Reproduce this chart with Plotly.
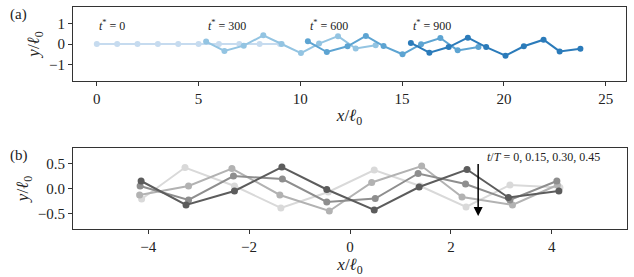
import plotly.graph_objects as go

# ---- panel (a): chain snapshots at t* = 0, 300, 600, 900 ----
a_labels = ["0", "300", "600", "900"]
a_x0 = [0, 1, 2, 3, 4, 5, 6, 7, 8, 9]
a_y0 = [0, 0, 0, 0, 0, 0, 0, 0, 0, 0]
a_x300 = [5.37, 6.27, 7.22, 8.18, 9.08, 10.03, 10.92, 11.85, 12.72, 13.70]
a_y300 = [0.12, -0.34, -0.08, 0.42, 0.00, -0.44, 0.02, 0.38, -0.22, -0.06]
a_x600 = [10.37, 11.30, 12.32, 13.22, 14.09, 15.02, 15.93, 16.88, 17.73, 18.75]
a_y600 = [0.13, -0.39, -0.11, 0.39, -0.10, -0.50, -0.01, 0.29, -0.31, -0.15]
a_x900 = [15.43, 16.34, 17.29, 18.23, 19.13, 20.08, 20.98, 21.95, 22.74, 23.76]
a_y900 = [0.05, -0.42, -0.15, 0.31, -0.15, -0.57, -0.11, 0.21, -0.36, -0.23]
a_colors = ["#c6dbef", "#93c4e2", "#5da4d2", "#2b7bba"]

# ---- panel (b): snapshots at t/T = 0, 0.15, 0.30, 0.45 ----
b_labels = ["0", "0.15", "0.30", "0.45"]
b_x_t0 = [-4.14, -3.25, -2.29, -1.35, -0.46, 0.48, 1.37, 2.32, 3.14, 4.14]
b_y_t0 = [0.15, -0.33, -0.05, 0.43, -0.02, -0.43, 0.03, 0.38, -0.18, -0.05]
b_x_t15 = [-4.16, -3.20, -2.31, -1.34, -0.46, 0.50, 1.35, 2.29, 3.17, 4.10]
b_y_t15 = [0.05, -0.23, 0.25, 0.19, -0.27, -0.20, 0.30, 0.09, -0.23, 0.15]
b_x_t30 = [-4.17, -3.20, -2.34, -1.39, -0.41, 0.43, 1.42, 2.22, 3.22, 4.11]
b_y_t30 = [-0.13, 0.05, 0.40, -0.13, -0.45, 0.12, 0.45, -0.17, -0.33, 0.07]
b_x_t45 = [-4.13, -3.27, -2.29, -1.37, -0.43, 0.48, 1.39, 2.30, 3.17, 4.16]
b_y_t45 = [-0.21, 0.42, 0.05, -0.39, -0.07, 0.37, 0.05, -0.37, 0.07, 0.02]
b_colors = ["#5c5c5c", "#8e8e8e", "#b2b2b2", "#d9d9d9"]

FONT = "Liberation Serif"
TXT = "#222222"

# plot area in pixels: x 73..627, y 7..229
L, R, T, B = 73, 7, 7, 48
W, H = 634 - L - R, 277 - T - B

fig = go.Figure()

a_xs = [a_x0, a_x300, a_x600, a_x900]
a_ys = [a_y0, a_y300, a_y600, a_y900]
for xs, ys, c, lab in zip(a_xs, a_ys, a_colors, a_labels):
    fig.add_trace(go.Scatter(x=xs, y=ys, mode="lines+markers", xaxis="x", yaxis="y",
                             line=dict(color=c, width=2), marker=dict(color=c, size=6),
                             showlegend=False, name="t*=" + lab))
    fig.add_annotation(x=xs[0], y=0.92, xref="x", yref="y", xanchor="left", yanchor="middle",
                       text="<i>t</i><sup>*</sup> = " + lab, showarrow=False,
                       font=dict(family=FONT, size=12, color=TXT))

b_xs = [b_x_t0, b_x_t15, b_x_t30, b_x_t45]
b_ys = [b_y_t0, b_y_t15, b_y_t30, b_y_t45]
for xs, ys, c, lab in list(zip(b_xs, b_ys, b_colors, b_labels))[::-1]:
    fig.add_trace(go.Scatter(x=xs, y=ys, mode="lines+markers", xaxis="x2", yaxis="y2",
                             line=dict(color=c, width=2), marker=dict(color=c, size=7),
                             showlegend=False, name="t/T=" + lab))

fig.add_annotation(x=2.54, y=-0.55, ax=2.54, ay=0.52, xref="x2", yref="y2", axref="x2", ayref="y2",
                   text="", showarrow=True, arrowhead=2, arrowsize=1.2, arrowwidth=1.5, arrowcolor="black")
fig.add_annotation(x=2.68, y=0.64, xref="x2", yref="y2", xanchor="left", yanchor="middle",
                   text="<i>t</i>/<i>T</i> = 0, 0.15, 0.30, 0.45", showarrow=False,
                   font=dict(family=FONT, size=12, color=TXT))
fig.add_annotation(x=(8 - L) / W, y=(277 - B - 15) / H, xref="paper", yref="paper", text="(a)",
                   showarrow=False, xanchor="left", yanchor="middle",
                   font=dict(family=FONT, size=15, color=TXT))
fig.add_annotation(x=(8 - L) / W, y=(277 - B - 155) / H, xref="paper", yref="paper", text="(b)",
                   showarrow=False, xanchor="left", yanchor="middle",
                   font=dict(family=FONT, size=15, color=TXT))

ax_common = dict(showgrid=False, zeroline=False, showline=True, linecolor="#333333", linewidth=1.2,
                 mirror=True, ticks="outside", ticklen=4, tickcolor="#333333", automargin=False,
                 tickfont=dict(family=FONT, size=15, color=TXT),
                 title_font=dict(family=FONT, size=17, color=TXT))
ytitle = "<i>y</i>/<i>ℓ</i><sub>0</sub>"
xtitle = "<i>x</i>/<i>ℓ</i><sub>0</sub>"

fig.update_layout(
    template="none",
    font=dict(family=FONT, color=TXT),
    width=634, height=277, margin=dict(l=L, r=R, t=T, b=B, autoexpand=False),
    paper_bgcolor="white", plot_bgcolor="white",
    xaxis=dict(domain=[0, (626 - L) / W], range=[-1.17, 26.0], tickvals=[0, 5, 10, 15, 20, 25],
               anchor="y", title=dict(text=xtitle, standoff=3), **ax_common),
    yaxis=dict(domain=[1 - (81 - T) / H, 1], range=[-1.8, 1.8], tickvals=[-1, 0, 1],
               ticktext=["−1", "0", "1"], anchor="x", title=dict(text=ytitle, standoff=4), **ax_common),
    xaxis2=dict(domain=[0, 1], range=[-5.49, 5.49], tickvals=[-4, -2, 0, 2, 4],
                ticktext=["−4", "−2", "0", "2", "4"], anchor="y2",
                title=dict(text=xtitle, standoff=3), **ax_common),
    yaxis2=dict(domain=[0, (229 - 148) / H], range=[-0.81, 0.81], tickvals=[-0.5, 0, 0.5],
                ticktext=["−0.5", "0.0", "0.5"], anchor="x2",
                title=dict(text=ytitle, standoff=4), **ax_common),
)

fig.write_html("out.html", config={"displayModeBar": False},
               post_script="document.body.style.margin='0px';")
